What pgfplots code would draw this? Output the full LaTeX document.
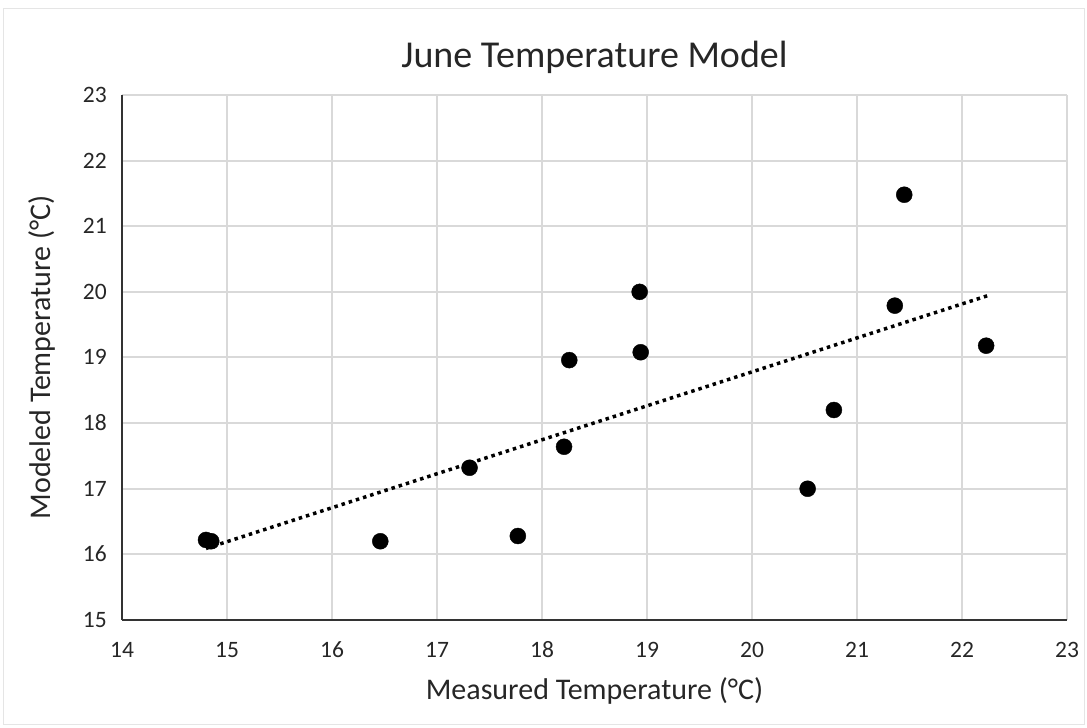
\documentclass[border=0pt]{standalone}
\usepackage{fontspec}
\setmainfont{Carlito}
\usepackage{pgfplots}
\pgfplotsset{compat=1.18}
\definecolor{gridgray}{HTML}{D9D9D9}
\definecolor{txtgray}{HTML}{262626}
\begin{document}
\begin{tikzpicture}[x=1pt,y=1pt]
\path[use as bounding box] (0,0) rectangle (1087,728);
\draw[black!10, line width=1pt] (3,3) rectangle (1084,719);
\begin{axis}[
  at={(122pt,108pt)}, anchor=south west,
  scale only axis, width=945pt, height=525pt,
  xmin=14, xmax=23, ymin=15, ymax=23,
  xtick distance=1, ytick distance=1,
  axis lines=left,
  axis line style={-, black!80, line width=2pt},
  grid=major, grid style={gridgray, line width=2pt},
  major tick length=0pt,
  /pgf/number format/assume math mode=true,
  tick label style={font=\fontsize{23.5}{23.5}\selectfont, text=txtgray,
    text height=15pt, text depth=0pt, inner sep=0pt},
  xticklabel style={anchor=center, yshift=-30pt},
  yticklabel style={anchor=east, xshift=-15pt},
  label style={font=\fontsize{30}{30}\selectfont, text=txtgray},
  xlabel={Measured Temperature (°C)},
  ylabel={Modeled Temperature (°C)},
  xlabel style={at={(axis description cs:0.5,0)}, anchor=center, yshift=-71pt},
  ylabel style={at={(axis description cs:0,0.5)}, anchor=center, yshift=80pt},
  title={June Temperature Model},
  title style={font=\fontsize{38}{38}\selectfont, text=txtgray,
    at={(axis description cs:0.5,1)}, anchor=center, yshift=32pt},
  clip=false,
]
% linear trendline
\addplot[black, line width=3.5pt, dash pattern=on 3.5pt off 4pt] coordinates {
  (14.80,16.09) (22.24,19.94)
};
% measured vs modeled
\addplot[only marks, mark=*, mark size=8pt, black] coordinates {
  (14.80,16.22) (14.85,16.20) (16.46,16.20) (17.31,17.32) (17.77,16.28)
  (18.21,17.64) (18.26,18.96) (18.93,20.00) (18.94,19.08) (20.53,17.00)
  (20.78,18.20) (21.36,19.79) (21.45,21.48) (22.23,19.18)
};
\end{axis}
\end{tikzpicture}
\end{document}
